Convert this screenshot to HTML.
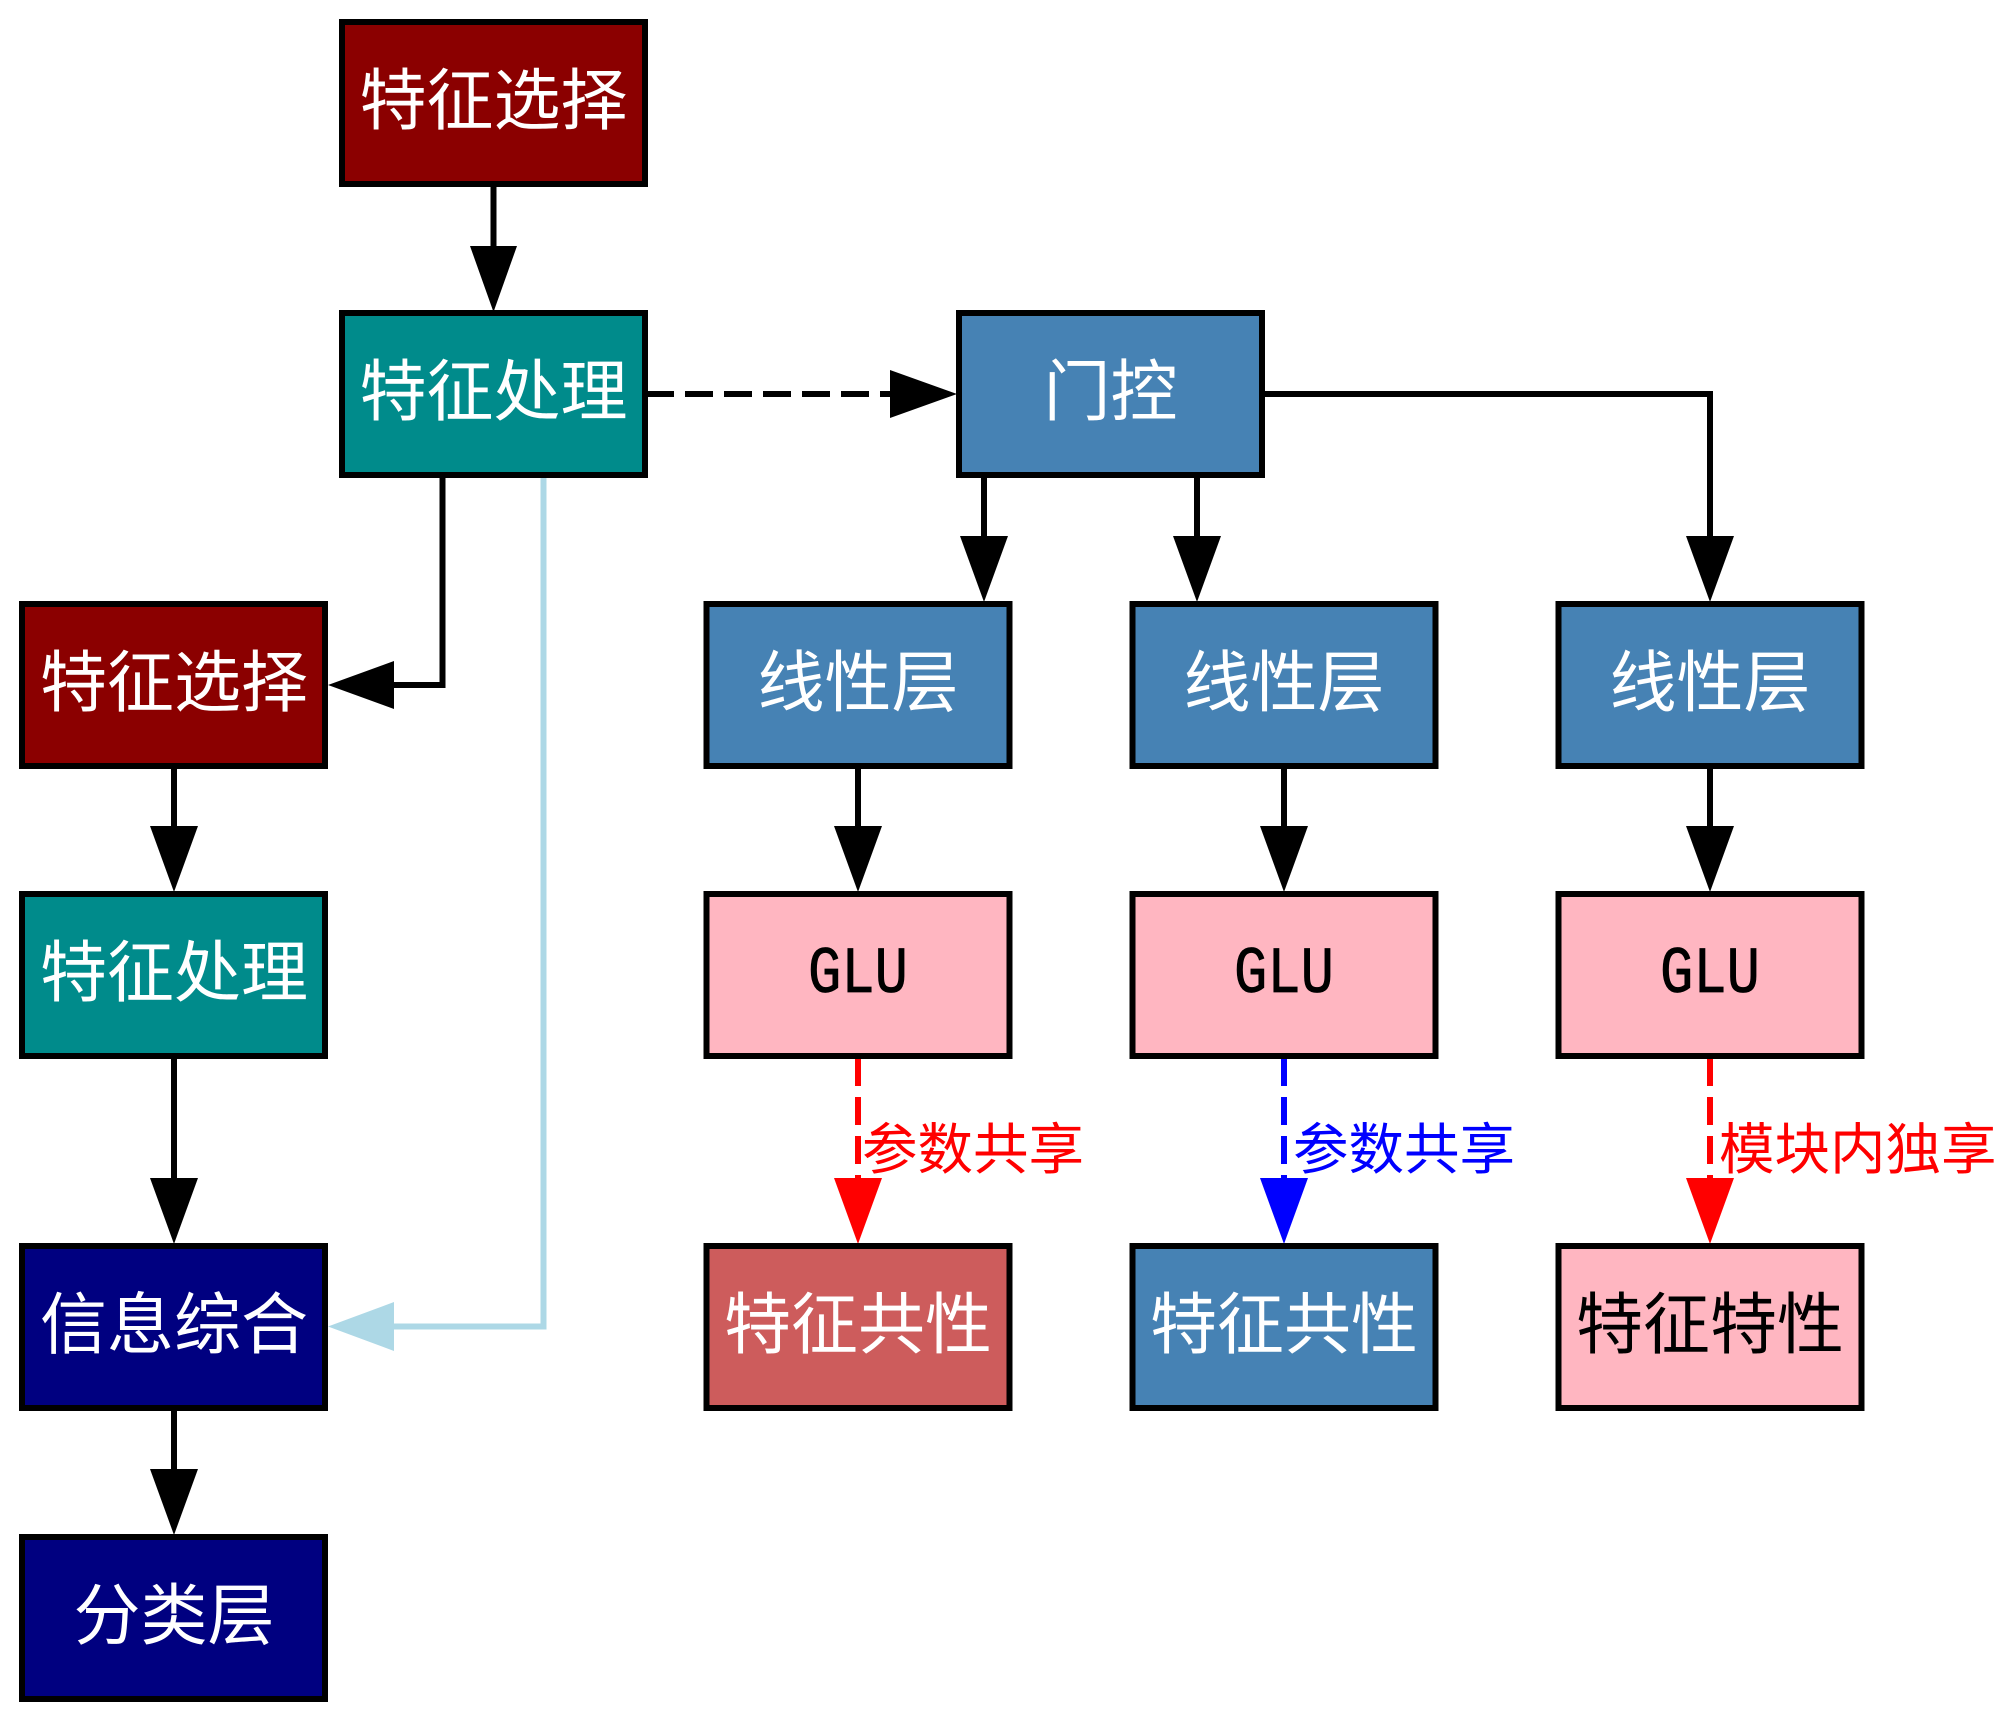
<!DOCTYPE html>
<html lang="zh">
<head>
<meta charset="utf-8">
<style>
html,body{margin:0;padding:0;background:#fff;}
svg{display:block;}
text{font-family:"Liberation Sans","WenQuanYi Zen Hei","Noto Sans CJK SC",sans-serif;}
.n{font-size:67px;text-anchor:middle;fill:#fff;}
.l{font-size:55.500px;}
.m{font-family:"Liberation Mono",monospace;font-size:66px;text-anchor:middle;fill:#000;}
rect{stroke:#000;stroke-width:6;}
.e{fill:none;stroke:#000;stroke-width:6;}
</style>
</head>
<body>
<svg width="1999" height="1721" viewBox="0 0 1999 1721" xmlns="http://www.w3.org/2000/svg">
<rect width="1999" height="1721" style="fill:#fff;stroke:none"/>

<!-- edges -->
<path class="e" d="M493.5 186V250"/>
<polygon points="470,246 517,246 493.5,312"/>
<path class="e" d="M646 394H893" stroke-dasharray="28 11"/>
<polygon points="890,370 890,418 957,394"/>
<path class="e" d="M1263 394H1710V540"/>
<polygon points="1686,536 1734,536 1710,602"/>
<path class="e" d="M984 477V540"/>
<polygon points="960,536 1008,536 984,602"/>
<path class="e" d="M1197 477V540"/>
<polygon points="1173,536 1221,536 1197,602"/>
<path class="e" d="M442.5 477V685H391"/>
<polygon points="394,661 394,709 328,685"/>
<path class="e" style="stroke:#add8e6" d="M543.5 477V1326.500H391"/>
<polygon style="fill:#add8e6" points="394,1302 394,1351 328,1326.500"/>
<path class="e" d="M174 767V830"/>
<polygon points="150,826 198,826 174,892"/>
<path class="e" d="M174 1058V1182"/>
<polygon points="150,1178 198,1178 174,1244"/>
<path class="e" d="M174 1410V1473"/>
<polygon points="150,1469 198,1469 174,1535"/>
<path class="e" d="M858 767V830"/>
<polygon points="834,826 882,826 858,892"/>
<path class="e" d="M1284 767V830"/>
<polygon points="1260,826 1308,826 1284,892"/>
<path class="e" d="M1710 767V830"/>
<polygon points="1686,826 1734,826 1710,892"/>
<path class="e" style="stroke:#f00" d="M858 1058V1182" stroke-dasharray="28 11"/>
<polygon style="fill:#f00" points="834,1178 882,1178 858,1244"/>
<path class="e" style="stroke:#00f" d="M1284 1058V1182" stroke-dasharray="28 11"/>
<polygon style="fill:#00f" points="1260,1178 1308,1178 1284,1244"/>
<path class="e" style="stroke:#f00" d="M1710 1058V1182" stroke-dasharray="28 11"/>
<polygon style="fill:#f00" points="1686,1178 1734,1178 1710,1244"/>

<!-- nodes -->
<rect x="342" y="22" width="303" height="162" fill="#8b0000"/>
<text class="n" x="493.500" y="124">特征选择</text>
<rect x="342" y="313" width="303" height="162" fill="#008b8b"/>
<text class="n" x="493.500" y="415">特征处理</text>
<rect x="959" y="313" width="303" height="162" fill="#4682b4"/>
<text class="n" x="1110.500" y="415">门控</text>

<rect x="22" y="604" width="303" height="162" fill="#8b0000"/>
<text class="n" x="174" y="706">特征选择</text>
<rect x="22" y="894" width="303" height="162" fill="#008b8b"/>
<text class="n" x="174" y="996">特征处理</text>
<rect x="22" y="1246" width="303" height="162" fill="#000080"/>
<text class="n" x="174" y="1348">信息综合</text>
<rect x="22" y="1537" width="303" height="162" fill="#000080"/>
<text class="n" x="174" y="1639">分类层</text>

<rect x="706.500" y="604" width="303" height="162" fill="#4682b4"/>
<text class="n" x="858" y="706">线性层</text>
<rect x="1132.500" y="604" width="303" height="162" fill="#4682b4"/>
<text class="n" x="1284" y="706">线性层</text>
<rect x="1558.500" y="604" width="303" height="162" fill="#4682b4"/>
<text class="n" x="1710" y="706">线性层</text>

<rect x="706.500" y="894" width="303" height="162" fill="#ffb6c1"/>
<text class="m" x="858" y="992" textLength="100" lengthAdjust="spacingAndGlyphs" style="stroke:#000;stroke-width:.8">GLU</text>
<rect x="1132.500" y="894" width="303" height="162" fill="#ffb6c1"/>
<text class="m" x="1284" y="992" textLength="100" lengthAdjust="spacingAndGlyphs" style="stroke:#000;stroke-width:.8">GLU</text>
<rect x="1558.500" y="894" width="303" height="162" fill="#ffb6c1"/>
<text class="m" x="1710" y="992" textLength="100" lengthAdjust="spacingAndGlyphs" style="stroke:#000;stroke-width:.8">GLU</text>

<rect x="706.500" y="1246" width="303" height="162" fill="#cd5c5c"/>
<text class="n" x="858" y="1348">特征共性</text>
<rect x="1132.500" y="1246" width="303" height="162" fill="#4682b4"/>
<text class="n" x="1284" y="1348">特征共性</text>
<rect x="1558.500" y="1246" width="303" height="162" fill="#ffb6c1"/>
<text class="n" x="1710" y="1348" style="fill:#000">特征特性</text>

<!-- edge labels -->
<text class="l" x="862" y="1169" fill="#f00">参数共享</text>
<text class="l" x="1293" y="1169" fill="#00f">参数共享</text>
<text class="l" x="1719" y="1169" fill="#f00">模块内独享</text>
</svg>
</body>
</html>
